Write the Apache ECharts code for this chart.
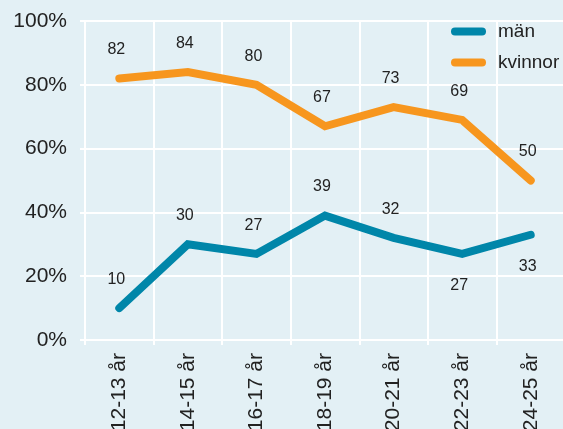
<!DOCTYPE html>
<html>
<head>
<meta charset="utf-8">
<script src="https://cdn.jsdelivr.net/npm/echarts@6/dist/echarts.min.js"></script>
<style>
  html, body { margin: 0; padding: 0; background: #e3f0f5; }
  #container { width: 563px; height: 429px; }
</style>
</head>
<body>
<div id="container"></div>
<script>
var categories = ['12-13 år', '14-15 år', '16-17 år', '18-19 år', '20-21 år', '22-23 år', '24-25 år'];
var man = [10, 30, 27, 39, 32, 27, 33];
var kvinnor = [82, 84, 80, 67, 73, 69, 50];
// where each label sits relative to its point
var manLabelPos = ['top', 'top', 'top', 'top', 'top', 'bottom', 'bottom'];
var kvinnorLabelPos = ['top', 'top', 'top', 'top', 'top', 'top', 'top'];
var yTicks = [0, 20, 40, 60, 80, 100];

(function() {
    var dom = document.getElementById("container");
    var myChart = echarts.init(dom);
    var font = 'Liberation Sans, Arial, sans-serif';

    function buildData(values, positions) {
        return values.map(function(v, i) {
            return {
                value: v,
                label: {
                    position: positions[i],
                    distance: positions[i] == 'top' ? 20 : 23
                }
            };
        });
    }

    var pill = 'path://M4,0 L31,0 A4,4 0 0 1 31,8 L4,8 A4,4 0 0 1 4,0 Z';

    function makeSeries(name, color, values, positions) {
        return {
            name: name,
            type: 'line',
            data: buildData(values, positions),
            symbol: 'circle',
            symbolSize: 1,
            showSymbol: true,
            itemStyle: { color: color },
            lineStyle: { color: color, width: 8, cap: 'round', join: 'miter' },
            label: {
                show: true,
                color: '#222',
                fontSize: 16,
                fontFamily: font,
                offset: [-3, 0]
            },
            emphasis: { disabled: true },
            animation: false
        };
    }

    myChart.setOption({
        backgroundColor: '#e3f0f5',
        grid: {
            left: 85,
            right: -2,
            top: 21,
            bottom: 89,
            containLabel: false,
            outerBoundsMode: 'none'
        },
        legend: {
            orient: 'vertical',
            left: 446,
            top: 17,
            itemWidth: 35,
            itemHeight: 8,
            itemGap: 12,
            icon: pill,
            textStyle: {
                color: '#222',
                fontSize: 19,
                fontFamily: font,
                padding: [0, 0, 0, 7]
            },
            data: ['män', 'kvinnor']
        },
        xAxis: {
            type: 'category',
            data: categories,
            boundaryGap: true,
            axisLine: { show: true, lineStyle: { color: '#fff', width: 2 } },
            axisTick: { show: true, length: 5, lineStyle: { color: '#fff', width: 2 } },
            splitLine: { show: true, lineStyle: { color: '#fff', width: 2 } },
            axisLabel: {
                rotate: 90,
                margin: 13,
                color: '#222',
                fontSize: 21,
                fontFamily: font,
                interval: 0
            }
        },
        yAxis: {
            type: 'value',
            min: yTicks[0],
            max: yTicks[yTicks.length - 1],
            interval: 20,
            axisLine: { show: false },
            axisTick: { show: true, length: 5, lineStyle: { color: '#fff', width: 2 } },
            splitLine: { show: true, lineStyle: { color: '#fff', width: 2 } },
            axisLabel: {
                margin: 18,
                color: '#222',
                fontSize: 21,
                fontFamily: font,
                formatter: '{value}%'
            }
        },
        series: [
            makeSeries('män', '#0086a9', man, manLabelPos),
            makeSeries('kvinnor', '#f7961e', kvinnor, kvinnorLabelPos)
        ]
    });
}).call(this);
</script>
</body>
</html>
